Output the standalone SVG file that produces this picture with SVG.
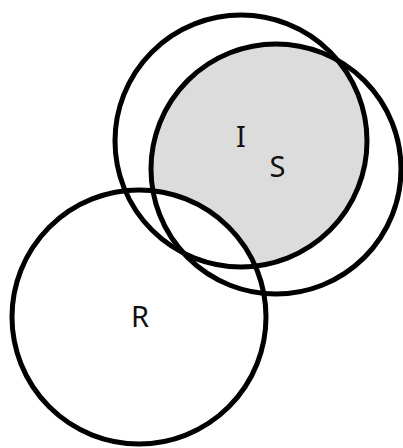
<svg xmlns="http://www.w3.org/2000/svg" width="403" height="448" viewBox="0 0 403 448">
  <style>
    .ring { fill: none; stroke: #000; stroke-width: 5; }
    .lbl { font-family: "Noto Sans", "DejaVu Sans", sans-serif; font-size: 29px; fill: #111; text-anchor: middle; }
  </style>
  <defs>
    <clipPath id="clipI">
      <circle cx="241" cy="141" r="126"/>
    </clipPath>
  </defs>
  <rect width="403" height="448" fill="#fff"/>
  <g id="shade">
    <circle cx="276" cy="169" r="125" fill="#dcdcdc" clip-path="url(#clipI)"/>
    <circle cx="139" cy="317" r="127" fill="#fff"/>
  </g>
  <g id="node-I">
    <circle class="ring" cx="241" cy="141" r="126"/>
    <text class="lbl" x="241" y="147">I</text>
  </g>
  <g id="node-S">
    <circle class="ring" cx="276" cy="169" r="125"/>
    <text class="lbl" x="277.5" y="177">S</text>
  </g>
  <g id="node-R">
    <circle class="ring" cx="139" cy="317" r="127"/>
    <text class="lbl" x="140" y="327">R</text>
  </g>
  <g id="connectors"/>
</svg>
